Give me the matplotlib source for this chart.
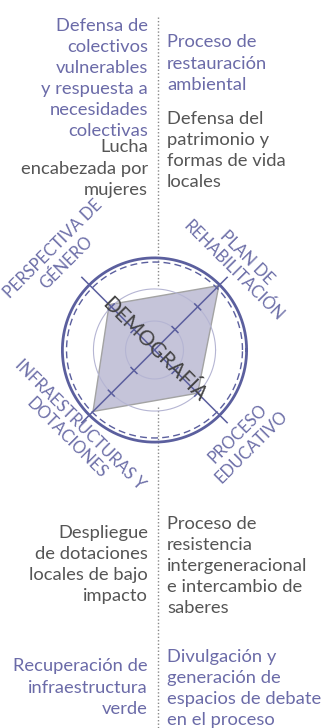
import numpy as np
import matplotlib.pyplot as plt

# Ejes del radar (ángulos en grados) y valores del polígono (escala 0-100)
ejes = ['PLAN DE\nREHABILITACIÓN', 'PERSPECTIVA DE\nGÉNERO',
        'INFRAESTRUCTURAS Y\nDOTACIONES', 'PROCESO\nEDUCATIVO']
angulos = [45, 135, 225, 315]
valores = [88, 62, 84, 59]
anillos = [28, 59]
anillo_discontinuo = 85
anillo_exterior = 89
centro = 'DEMOGRAFÍA'

# Bloques de texto a cada lado de la línea divisoria (y = línea base de la 1ª línea)
textos_izq = [
    ('Defensa de\ncolectivos\nvulnerables\ny respuesta a\nnecesidades\ncolectivas', 'morado', 25),
    ('Lucha\nencabezada por\nmujeres', 'gris', 150),
    ('Despliegue\nde dotaciones\nlocales de bajo\nimpacto', 'gris', 534),
    ('Recuperación de\ninfraestructura\nverde', 'morado', 669),
]
textos_der = [
    ('Proceso de\nrestauración\nambiental', 'morado', 45),
    ('Defensa del\npatrimonio y\nformas de vida\nlocales', 'gris', 120),
    ('Proceso de\nresistencia\nintergeneracional\ne intercambio de\nsaberes', 'gris', 524),
    ('Divulgación y\ngeneración de\nespacios de debate\nen el proceso', 'morado', 658),
]

colores = {'morado': '#6b6ba8', 'gris': '#555555'}
azul = '#5b5f9e'
paso = 22.3  # separación entre líneas en px

plt.rcParams['font.family'] = ['Lato', 'DejaVu Sans']

W, H = 323, 728
fig = plt.figure(figsize=(W / 100, H / 100), dpi=100)

# Capa de fondo en píxeles
bg = fig.add_axes([0, 0, 1, 1])
bg.set_xlim(0, W)
bg.set_ylim(H, 0)
bg.axis('off')

# Línea punteada vertical
xdiv = 157.5
bg.plot([xdiv, xdiv], [17, 287], color='#888888', lw=1, ls=(0, (1, 1.5)))
bg.plot([xdiv, xdiv], [407, H], color='#888888', lw=1, ls=(0, (1, 1.5)))

for lado, x, ha in [(textos_izq, 148, 'right'), (textos_der, 167, 'left')]:
    for txt, c, y in lado:
        n = txt.count('\n')
        bg.text(x, y + n * paso, txt, color=colores[c], fontsize=13.2, ha=ha,
                va='baseline', multialignment=ha, linespacing=1.39)

# Radar
cx, cy, R = 154.5, 350, 103.5
ax = fig.add_axes([(cx - R) / W, (H - cy - R) / H, 2 * R / W, 2 * R / H],
                  projection='polar')
ax.set_ylim(0, 100)
ax.axis('off')
ax.patch.set_visible(False)

th = np.deg2rad(angulos)
ax.fill(np.append(th, th[0]), valores + valores[:1], color='#c5c4d9',
        ec='#a3a3a3', lw=1, zorder=1)

t = np.linspace(0, 2 * np.pi, 400)
for r in anillos:
    ax.plot(t, np.full_like(t, r), color='#b5b5d3', lw=0.8, zorder=2)
ax.plot(t, np.full_like(t, anillo_discontinuo), color=azul, lw=1,
        dashes=(5, 3), zorder=2)
ax.plot(t, np.full_like(t, anillo_exterior), color=azul, lw=2, zorder=2)

for a in th:
    ax.plot([a, a], [0, 100], color=azul, lw=1.1, zorder=3)
    for r in anillos + [anillo_exterior]:
        p = r * np.array([np.cos(a), np.sin(a)])
        n = np.array([-np.sin(a), np.cos(a)]) * 4
        q = np.array([p - n, p + n])
        ax.plot(np.arctan2(q[:, 1], q[:, 0]), np.hypot(q[:, 0], q[:, 1]),
                color=azul, lw=1.1, zorder=3)

pos_etiquetas = [117, 129, 111, 123]
rot_etiquetas = [-45, 45, -45, 45]
for txt, a, r, rot in zip(ejes, th, pos_etiquetas, rot_etiquetas):
    ax.text(a, r, txt, color='#6d6fa8', fontsize=11.9,
            ha='center', va='center', rotation=rot, rotation_mode='anchor',
            multialignment='center', linespacing=1.22, clip_on=False)

ax.text(0, 0, centro, color='#444444', fontsize=15,
        ha='center', va='center', rotation=-45, rotation_mode='anchor', zorder=4)

fig.savefig('out.png', dpi=100)
